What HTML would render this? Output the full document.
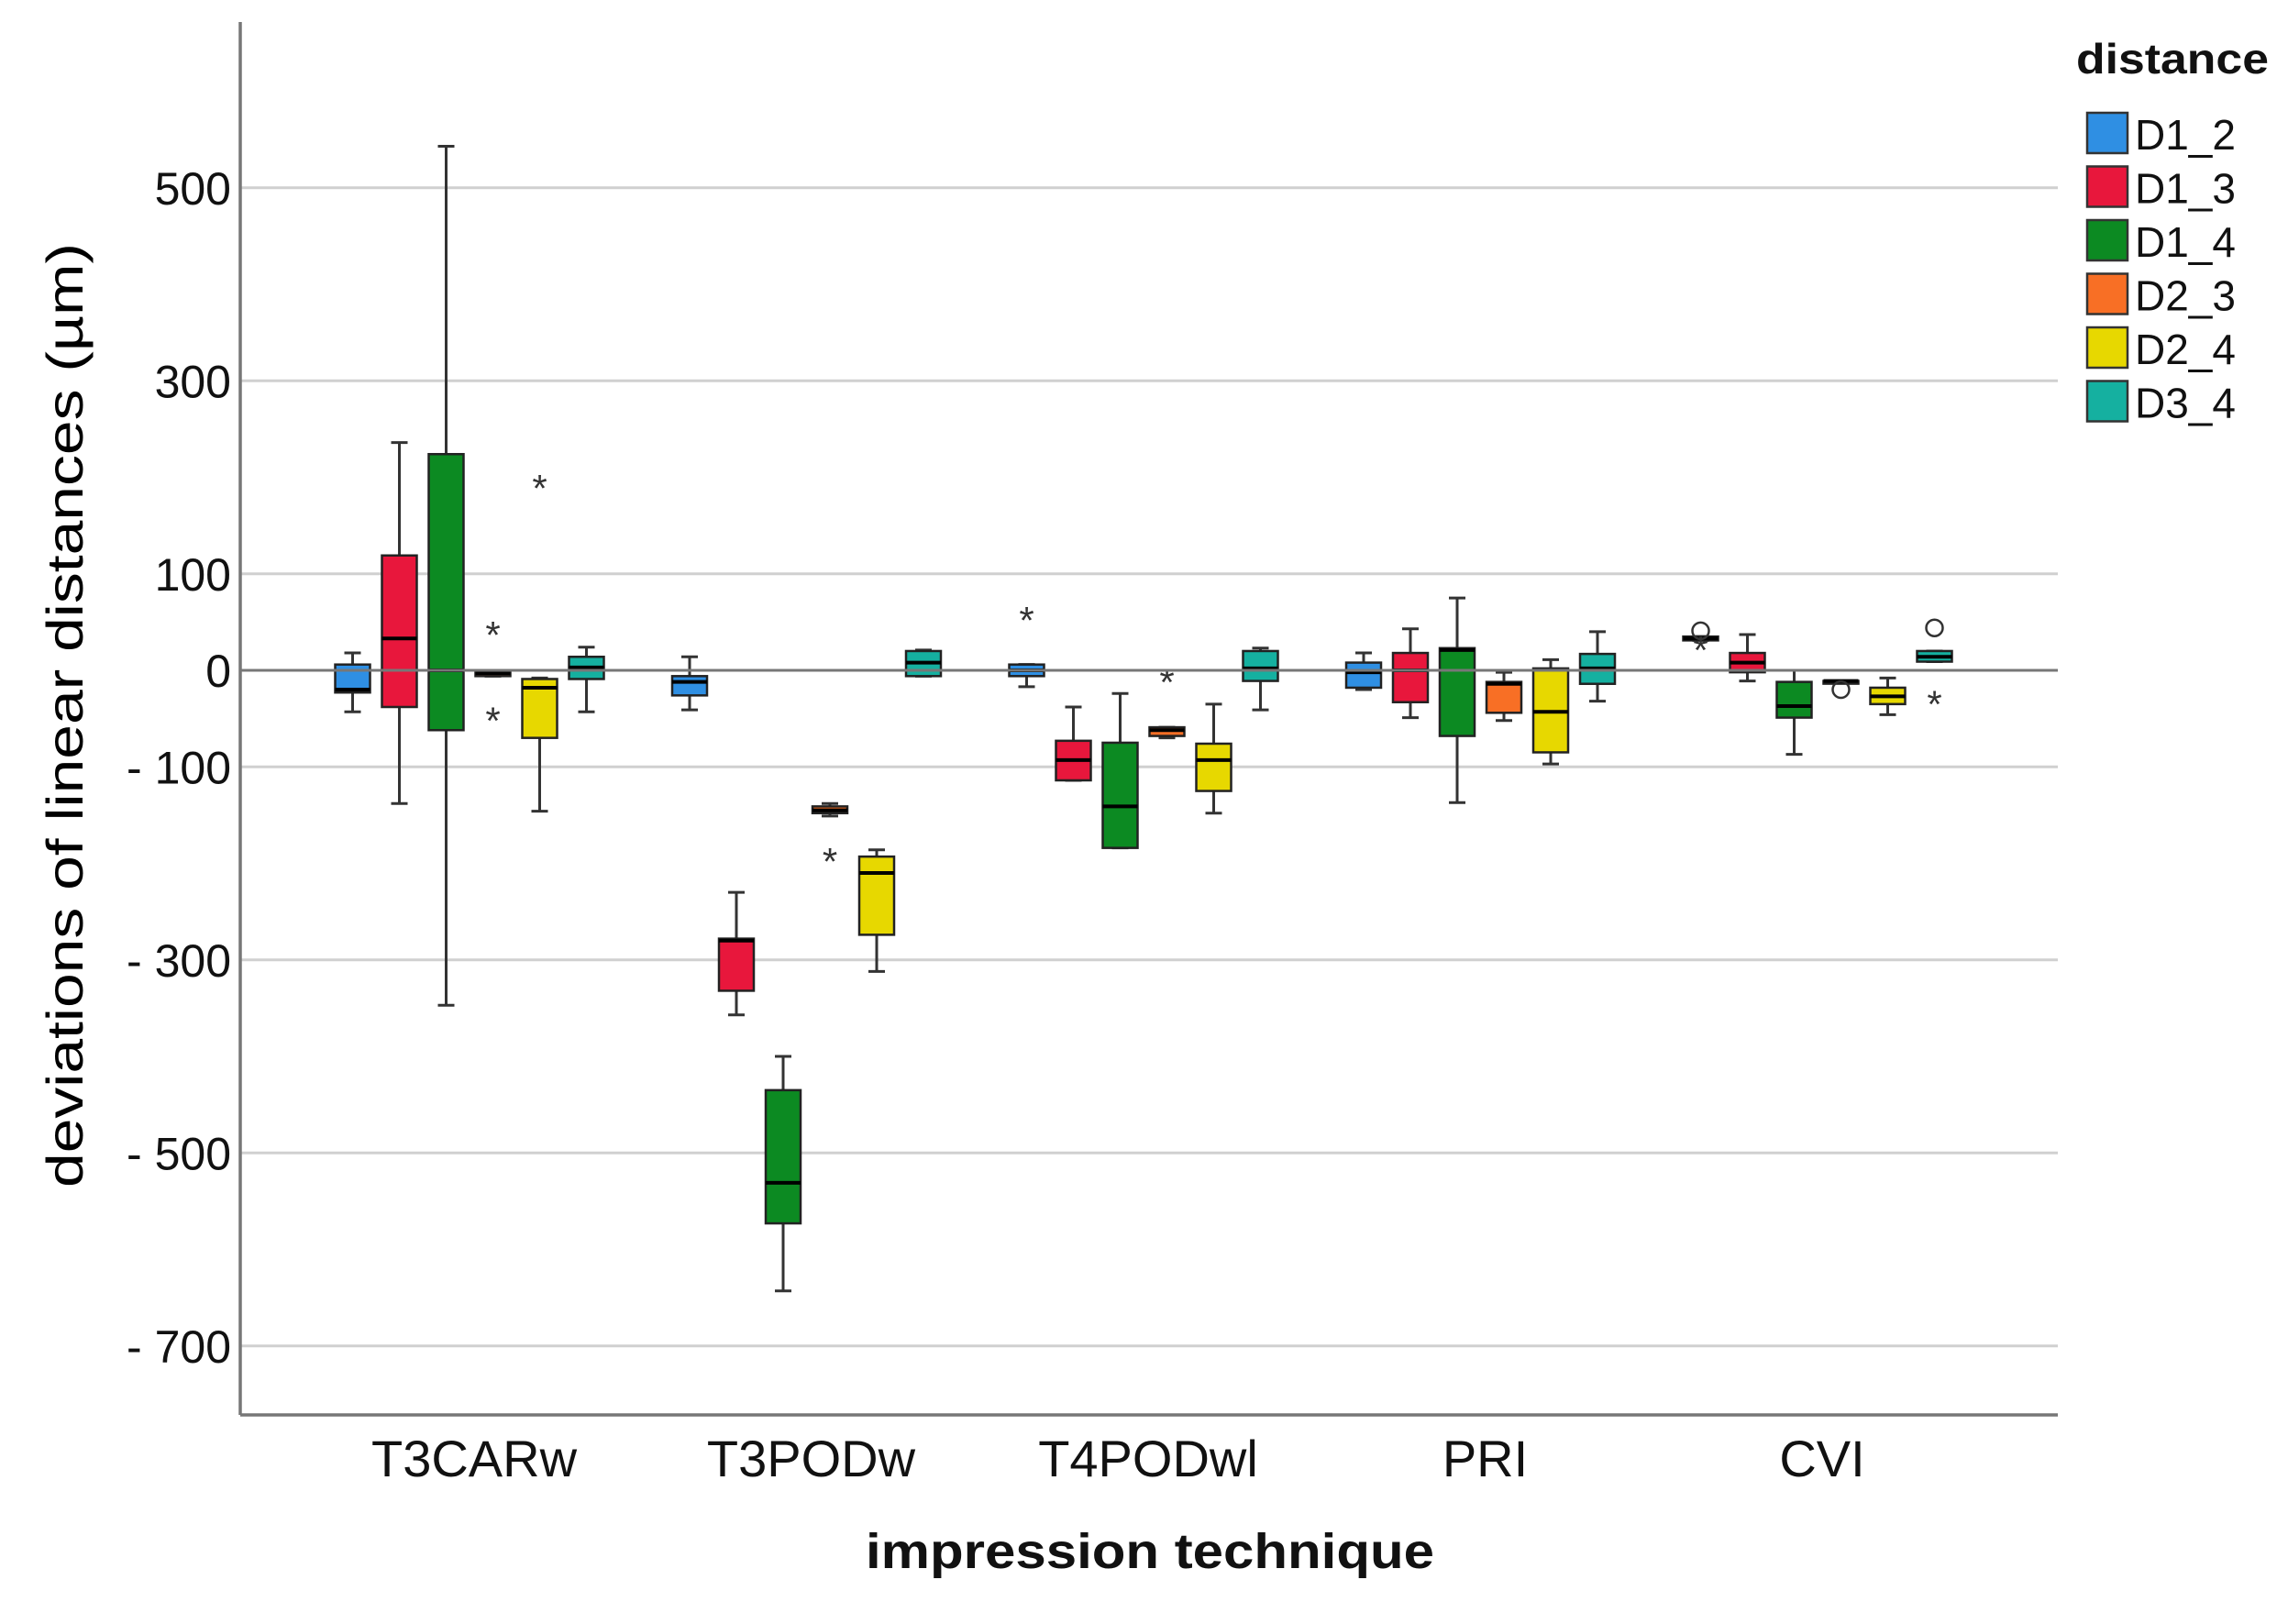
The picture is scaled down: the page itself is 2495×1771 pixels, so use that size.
<!DOCTYPE html>
<html><head><meta charset="utf-8">
<style>
html,body{margin:0;padding:0;background:#fff;}
svg{display:block;font-family:"Liberation Sans",sans-serif;}
</style></head>
<body>
<svg id="chart" width="2495" height="1771" viewBox="0 0 2495 1771" xmlns="http://www.w3.org/2000/svg">
<rect x="0" y="0" width="2495" height="1771" fill="#fff"/>
<g id="grid"></g>
<g id="yticks"></g>
<g id="boxes"></g>
<g id="axes"></g>
<g id="xticks"></g>
<text transform="translate(90,780) rotate(-90)" text-anchor="middle" font-size="56" textLength="1030" lengthAdjust="spacingAndGlyphs" fill="#000">deviations of linear distances (µm)</text>
<text x="1254" y="1710" text-anchor="middle" font-size="54" font-weight="bold" textLength="620" lengthAdjust="spacingAndGlyphs" fill="#111">impression technique</text>
<g id="legend">
<text x="2264" y="80" font-size="46" font-weight="bold" textLength="210" lengthAdjust="spacingAndGlyphs" fill="#111">distance</text>
</g>
</svg>
<script>
const categories = ["T3CARw","T3PODw","T4PODwl","PRI","CVI"];
const seriesNames = ["D1_2","D1_3","D1_4","D2_3","D2_4","D3_4"];
const seriesColors = ["#2f8fe3","#e8173c","#0c8a22","#f86f25","#e7d800","#15b0a0"];
const yTicks = [500,300,100,0,-100,-300,-500,-700];
const yTickLabels = ["500","300","100","0","- 100","- 300","- 500","- 700"];
// per category: per series [min,q1,median,q3,max]
const statsT3CARw = [[-43,-23,-20,6,18],[-138,-38,33,119,236],[-347,-62,0,224,543],[-6,-6,-3,-1,-1],[-146,-70,-18,-9,-8],[-43,-9,3,14,24]];
const statsT3PODw = [[-41,-26,-12,-6,14],[-357,-332,-280,-278,-230],[-643,-573,-531,-435,-400],[-151,-148,-145,-141,-138],[-312,-274,-210,-193,-186],[-6,-6,8,20,21]];
const statsT4PODwl = [[-17,-6,0,6,6],[-114,-114,-93,-73,-38],[-184,-184,-141,-75,-24],[-70,-68,-62,-59,-59],[-148,-125,-93,-76,-35],[-41,-11,2,20,23]];
const statsPRI = [[-20,-18,-2,8,18],[-49,-33,0,18,43],[-137,-68,21,23,75],[-52,-44,-14,-12,-2],[-97,-85,-43,2,11],[-32,-14,2,17,40]];
const statsCVI = [[31,31,33,35,35],[-11,-2,8,18,37],[-87,-49,-37,-12,0],[-11,-11,-11,-11,-11],[-46,-35,-27,-18,-8],[9,9,14,20,20]];
const allStats = [statsT3CARw,statsT3PODw,statsT4PODwl,statsPRI,statsCVI];
const outlierCat = [0,0,0,1,2,2,4,4,4,4,4];
const outlierSer = [3,3,4,3,0,3,0,0,3,5,5];
const outlierVal = [40,-49,192,-195,55,-9,41,24,-20,44,-32];
const outlierType = ["star","star","star","star","star","star","circle","star","circle","circle","star"];

const NS="http://www.w3.org/2000/svg";
const X0=262, X1=2244, YTOP=24, YBOT=1543;
const catCenter0=512, catStep=367.5, boxStep=51, boxW=38;
function yS(v){ return 731 - v*1.0525; }
function xC(ci){ return catCenter0 + ci*catStep; }
function xB(ci,si){ return xC(ci) + (si-2.5)*boxStep; }
function mk(tag,attrs,parent){ const e=document.createElementNS(NS,tag); for(const k in attrs) e.setAttribute(k,attrs[k]); parent.appendChild(e); return e; }

const grid=document.getElementById('grid'), yt=document.getElementById('yticks');
yTicks.forEach((t,i)=>{
  if(t!==0){ const l=mk('line',{x1:X0,x2:X1,y1:yS(t),y2:yS(t),stroke:'#d0d0d0','stroke-width':3},grid);
    
     }
  const tx=mk('text',{x:252,y:yS(t)+18,'text-anchor':'end','font-size':50,fill:'#111'},yt);
  tx.textContent=yTickLabels[i];
  
  
});

const boxes=document.getElementById('boxes');
allStats.forEach((cat,ci)=>{
  cat.forEach((s,si)=>{
    const g=mk('g',{},boxes);
    
    
    const x=xB(ci,si);
    mk('line',{x1:x,x2:x,y1:yS(s[4]),y2:yS(s[0]),stroke:'#333','stroke-width':3},g);
    mk('line',{x1:x-9,x2:x+9,y1:yS(s[4]),y2:yS(s[4]),stroke:'#333','stroke-width':3},g);
    mk('line',{x1:x-9,x2:x+9,y1:yS(s[0]),y2:yS(s[0]),stroke:'#333','stroke-width':3},g);
    const h=Math.max(yS(s[1])-yS(s[3]),3);
    mk('rect',{x:x-boxW/2,y:yS(s[3]),width:boxW,height:h,fill:seriesColors[si],stroke:'#222','stroke-width':2.5},g);
    mk('line',{x1:x-boxW/2,x2:x+boxW/2,y1:yS(s[2]),y2:yS(s[2]),stroke:'#000','stroke-width':4},g);
  });
});
outlierVal.forEach((v,i)=>{
  const x=xB(outlierCat[i],outlierSer[i]), y=yS(v);
  let e;
  if(outlierType[i]==='circle'){ e=mk('circle',{cx:x,cy:y,r:9,fill:'none',stroke:'#333','stroke-width':2.5},boxes); }
  else { e=mk('text',{x:x,y:y+18,'text-anchor':'middle','font-size':42,fill:'#333'},boxes); e.textContent='*'; }
  
  
});

const axes=document.getElementById('axes');
const zl=mk('line',{x1:X0,x2:X1,y1:yS(0),y2:yS(0),stroke:'#777','stroke-width':3},axes);


const ya=mk('line',{x1:X0,x2:X0,y1:YTOP,y2:YBOT,stroke:'#777','stroke-width':3.5},axes);


const xa=mk('line',{x1:X0,x2:X1,y1:YBOT,y2:YBOT,stroke:'#777','stroke-width':3.5},axes);



const xt=document.getElementById('xticks');
categories.forEach((c,ci)=>{
  const t=mk('text',{x:xC(ci)+5,y:1610,'text-anchor':'middle','font-size':56,fill:'#111'},xt);
  t.textContent=c;
  
  
});

const lg=document.getElementById('legend');
seriesNames.forEach((n,i)=>{
  const g=mk('g',{},lg);
  
  
  const y=123+i*58.5;
  mk('rect',{x:2276,y:y,width:44,height:44,fill:seriesColors[i],stroke:'#333','stroke-width':2.5},g);
  const t=mk('text',{x:2328,y:y+40,'font-size':46,fill:'#111'},g);
  t.textContent=n;
});
</script>
</body></html>
